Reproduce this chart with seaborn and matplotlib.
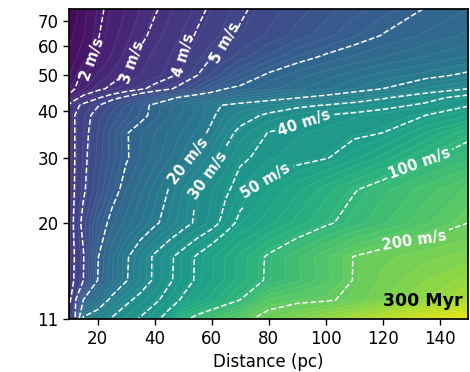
import numpy as np
import matplotlib
matplotlib.use("Agg")
import matplotlib.pyplot as plt
import seaborn as sns

sns.set_theme(style="ticks")
plt.rcParams["font.family"] = ["DejaVu Sans"]
plt.rcParams.update({
    "axes.edgecolor": "black",
    "axes.labelcolor": "black",
    "xtick.color": "black",
    "ytick.color": "black",
    "text.color": "black",
})

# Grid of the velocity field: distance (pc) along x, y quantity on a log axis
distance_pc = [10, 12, 15, 20, 25, 30, 35, 40, 45, 50, 55, 60, 65, 70, 80, 90, 100, 110, 120, 135, 150]
y_nodes = [11, 12.4, 14, 16.2, 20, 24.6, 30, 35, 39, 41.5, 43.5, 46, 50, 56, 64, 75.5]

# Velocity in m/s, one row per y node (bottom to top), one column per distance
speed = [
    [4.5, 4.8, 22, 26, 31, 36, 41, 47, 56, 92, 115, 135, 158, 180, 230, 280, 340, 420, 500, 650, 800],
    [3.8, 4.6, 10, 15, 22, 28, 33, 38, 44, 52, 61, 72, 85, 100, 170, 185, 192, 215, 260, 330, 420],
    [3.6, 4.1, 5.0, 10, 14, 19.5, 25, 31.5, 38.5, 44.5, 52, 60, 69, 80, 105, 130, 160, 203, 240, 290, 340],
    [3.5, 4.05, 4.9, 9.8, 13.7, 19.1, 24.8, 31.4, 38, 44.4, 51.6, 59.5, 68.5, 79, 104, 130, 162, 202, 225, 250, 275],
    [3.5, 4.2, 5.4, 8.2, 11, 13.2, 15.7, 18.9, 22.6, 27, 31.7, 36.1, 43.7, 53.6, 65, 79, 95, 112, 130, 162, 200],
    [3.4, 4.05, 4.8, 6.4, 8.7, 11.2, 13.6, 16.6, 20.2, 24.9, 30.3, 34.3, 38.6, 43.5, 54.1, 66, 80.7, 98, 114, 140, 170],
    [3.4, 4.0, 4.7, 5.93, 7.6, 9.7, 11.4, 13.3, 15.5, 18, 21.3, 26.4, 32.2, 38.6, 42.6, 45.5, 48.9, 57.7, 70.7, 96, 113],
    [3.4, 4.0, 4.6, 5.8, 7.6, 9.8, 11.2, 12.6, 14.3, 16.1, 18.2, 21, 27.1, 32.4, 40.4, 42.6, 44.9, 47.4, 50, 68, 93],
    [3.3, 4.0, 4.5, 5.5, 6.6, 7.8, 9.2, 10.8, 12.5, 14.3, 16.5, 19.2, 22.5, 26.2, 31.8, 35.9, 40, 42.6, 45.3, 50, 60],
    [3.2, 3.7, 4.25, 4.9, 6.0, 7.3, 8.95, 10.7, 12.3, 14.2, 16.4, 18.9, 20.5, 22, 24.8, 28.2, 30.5, 33.5, 36.5, 42, 49],
    [2.1, 2.7, 3.3, 3.9, 4.6, 5.3, 6.3, 7.6, 9.2, 10.8, 12.2, 13.5, 14.5, 15.5, 17.5, 19.8, 22, 25, 29, 36, 45],
    [1.85, 2.0, 2.3, 2.8, 3.18, 3.5, 3.85, 4.27, 4.8, 5.6, 6.8, 8.2, 10, 10.6, 12.1, 13.7, 15.5, 17.6, 20, 25, 30],
    [1.65, 1.85, 2.1, 2.39, 2.71, 3.05, 3.29, 3.54, 3.82, 4.26, 5.0, 5.9, 6.95, 8.2, 10.5, 12, 13.5, 15, 16.5, 18.5, 21],
    [1.55, 1.65, 1.78, 2.06, 2.38, 2.75, 3.12, 3.38, 3.66, 4.0, 4.47, 5.0, 5.5, 6.1, 7.4, 9.1, 10.4, 11.5, 12.6, 14.2, 16],
    [1.45, 1.53, 1.67, 1.97, 2.23, 2.52, 2.86, 3.16, 3.43, 3.73, 4.08, 4.4, 4.78, 5.14, 5.88, 6.75, 7.7, 8.9, 10.1, 11.5, 13],
    [1.35, 1.43, 1.6, 1.9, 2.13, 2.37, 2.64, 2.93, 3.21, 3.49, 3.79, 4.13, 4.47, 4.82, 5.47, 6.1, 6.85, 7.65, 8.55, 10.1, 11.3],
]

labeled_levels = [2, 3, 4, 5, 20, 30, 40, 50, 100, 200]
plain_levels = [10]
# Where each label sits along its line (distance, y)
label_spots = [(19, 55), (32.5, 54), (49, 57), (65, 61), (52.5, 29), (60, 26),
               (93, 36.4), (80, 25.3), (133, 29), (131, 19)]

x_ticks = [20, 40, 60, 80, 100, 120, 140]
y_ticks = [11, 20, 30, 40, 50, 60, 70]

fig, ax = plt.subplots(figsize=(4.7, 3.72), dpi=100)
fig.subplots_adjust(left=0.147, right=0.996, bottom=0.142, top=0.976)

D, Y = np.meshgrid(distance_pc, y_nodes)
logv = np.log10(np.array(speed, dtype=float))

fill_levels = np.linspace(np.log10(1.2), np.log10(1000), 61)
cmap = sns.color_palette("viridis", as_cmap=True)
ax.contourf(D, Y, logv, levels=fill_levels, cmap=cmap, extend="both")
ax.contour(D, Y, logv, levels=fill_levels, colors="white", linewidths=0.3, alpha=0.18)

ax.contour(D, Y, logv, levels=np.log10(plain_levels), colors="white",
           linewidths=1.1, linestyles="--")
cs = ax.contour(D, Y, logv, levels=np.log10(labeled_levels), colors="white",
                linewidths=1.1, linestyles="--")


def speed_label(lv):
    return f"{10 ** lv:.0f} m/s"


texts = ax.clabel(cs, fmt=speed_label, fontsize=10.5, inline=True, manual=label_spots)
for t in texts:
    t.set_fontweight("bold")

ax.set_yscale("log")
ax.set_xlim(10, 150)
ax.set_ylim(11, 75.5)
ax.set_yticks(y_ticks)
ax.set_yticklabels([str(v) for v in y_ticks])
ax.yaxis.set_minor_locator(matplotlib.ticker.NullLocator())
ax.set_xticks(x_ticks)
ax.tick_params(labelsize=12, length=4, width=1)
ax.set_xlabel("Distance (pc)", fontsize=12)

ax.text(0.985, 0.03, "300 Myr", transform=ax.transAxes, ha="right", va="bottom",
        fontsize=12.5, fontweight="bold", color="black")

fig.savefig("out.png", dpi=100)
